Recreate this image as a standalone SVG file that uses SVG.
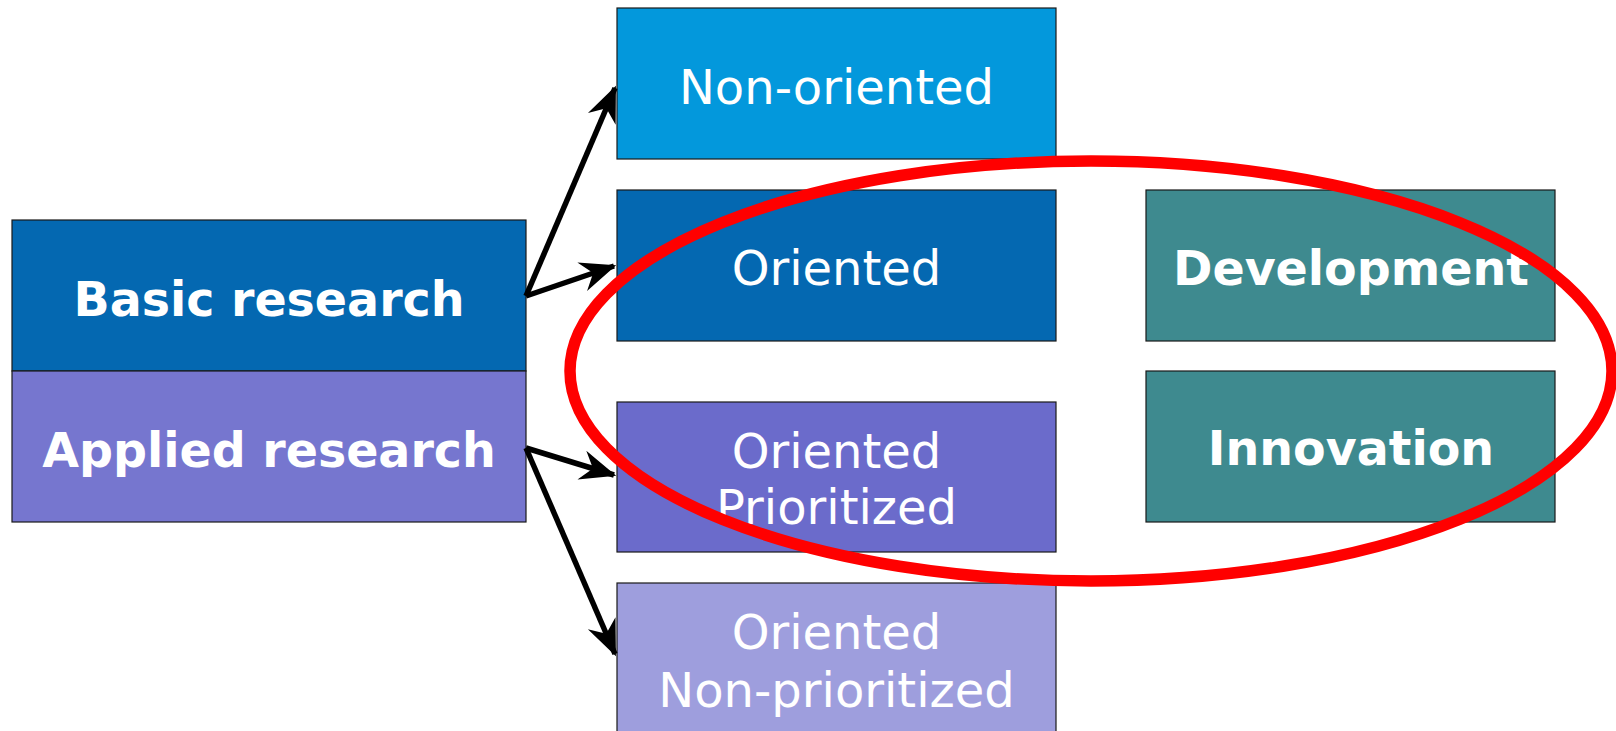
<svg xmlns="http://www.w3.org/2000/svg" width="1616" height="731" viewBox="0 0 1616 731">
<style>
.box{stroke:#1a1a1a;stroke-width:1.2}
.t{fill:#fff;font-family:"DejaVu Sans",Verdana,sans-serif;font-size:48px;text-anchor:middle}
.b{font-weight:bold;font-size:47.5px}
.c{stroke:#000;stroke-width:5.5;fill:none}
</style>
<defs>
<marker id="ah" markerUnits="userSpaceOnUse" markerWidth="44" markerHeight="44" viewBox="-34 -17 38 34" refX="0" refY="0" orient="auto">
<path d="M2,0 L-29,-13 L-19,0 L-29,13 Z" fill="#000"/>
</marker>
</defs>
<rect width="1616" height="731" fill="#fff"/>
<g id="basic"><rect class="box" x="12" y="220" width="514" height="151" fill="#0468B1"/><text class="t b" x="269" y="316">Basic research</text></g>
<g id="applied"><rect class="box" x="12" y="371" width="514" height="151" fill="#7676CF"/><text class="t b" x="269" y="467">Applied research</text></g>
<g id="nonoriented"><rect class="box" x="617" y="8" width="439" height="151" fill="#0398DC"/><text class="t" x="836.5" y="104">Non-oriented</text></g>
<g id="oriented"><rect class="box" x="617" y="190" width="439" height="151" fill="#0468B1"/><text class="t" x="836.5" y="285">Oriented</text></g>
<g id="prioritized"><rect class="box" x="617" y="402" width="439" height="150" fill="#6B6BCB"/><text class="t" x="836.5" y="468">Oriented</text><text class="t" x="836.5" y="524">Prioritized</text></g>
<g id="nonprioritized"><rect class="box" x="617" y="583" width="439" height="160" fill="#9E9EDD"/><text class="t" x="836.5" y="649">Oriented</text><text class="t" x="836.5" y="707">Non-prioritized</text></g>
<g id="development"><rect class="box" x="1146" y="190" width="409" height="151" fill="#3E8A8F"/><text class="t b" x="1351" y="285">Development</text></g>
<g id="innovation"><rect class="box" x="1146" y="371" width="409" height="151" fill="#3E8A8F"/><text class="t b" x="1351" y="465">Innovation</text></g>
<g id="connectors">
<line class="c" x1="526" y1="296" x2="615" y2="88" marker-end="url(#ah)"/>
<line class="c" x1="526" y1="296" x2="614" y2="266" marker-end="url(#ah)"/>
<line class="c" x1="526" y1="448" x2="614" y2="475" marker-end="url(#ah)"/>
<line class="c" x1="526" y1="448" x2="615" y2="654" marker-end="url(#ah)"/>
</g>
<g id="highlight"><ellipse cx="1091" cy="371" rx="521" ry="210" fill="none" stroke="#FF0000" stroke-width="11.5"/></g>
</svg>
